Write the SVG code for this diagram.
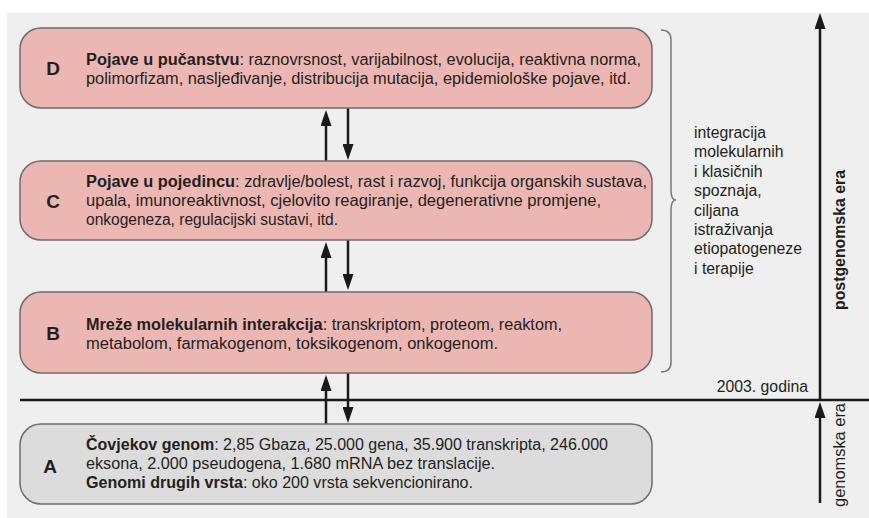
<svg xmlns="http://www.w3.org/2000/svg" width="869" height="518" viewBox="0 0 869 518">
<defs>
<style>
text{font-family:"Liberation Sans",Arial,sans-serif;fill:#231f20}
.box{fill:#ecb6b3;stroke:#6e6e6e;stroke-width:1.5}
.boxa{fill:#dcdcdc;stroke:#6e6e6e;stroke-width:1.5}
.t{font-size:16px}
.r{font-size:15.8px}
.b{font-weight:bold}
.lt{font-size:19px;font-weight:bold;text-anchor:middle}
.ar{stroke:#1a1a1a;stroke-width:2.5;fill:none;marker-end:url(#ah)}
</style>
<marker id="ah" viewBox="0 0 16 11" refX="10" refY="5.5" markerWidth="16" markerHeight="11" markerUnits="userSpaceOnUse" orient="auto">
<path d="M0,0 L16,5.5 L0,11 z" fill="#1a1a1a"/>
</marker>
</defs>
<rect x="7" y="13" width="862" height="505" fill="#efefef"/>

<g id="connectors">
<path class="ar" d="M326,161 V116"/>
<path class="ar" d="M348,108 V154"/>
<path class="ar" d="M326,292 V248"/>
<path class="ar" d="M348,240 V284"/>
<path class="ar" d="M326,424 V381"/>
<path class="ar" d="M348,373 V417"/>
</g>

<g id="era-axis">
<line x1="20" y1="400" x2="869" y2="400" stroke="#1a1a1a" stroke-width="2.5"/>
<path class="ar" d="M820,400 V19"/>
<path class="ar" d="M820,503 V408"/>
<text class="r" x="808" y="392" text-anchor="end">2003. godina</text>
<text class="r b" transform="translate(845,240) rotate(-90)" text-anchor="middle" textLength="140" lengthAdjust="spacingAndGlyphs">postgenomska era</text>
<text class="r" transform="translate(845,455) rotate(-90)" text-anchor="middle" textLength="104" lengthAdjust="spacingAndGlyphs">genomska era</text>
</g>

<g id="node-D">
<rect class="box" x="20" y="28" width="632" height="80" rx="21"/>
<text class="lt" x="53" y="75">D</text>
<text class="t" x="86" y="65" textLength="555" lengthAdjust="spacingAndGlyphs"><tspan class="b">Pojave u pučanstvu</tspan>: raznovrsnost, varijabilnost, evolucija, reaktivna norma,</text>
<text class="t" x="86" y="84" textLength="545" lengthAdjust="spacingAndGlyphs">polimorfizam, nasljeđivanje, distribucija mutacija, epidemiološke pojave, itd.</text>
</g>

<g id="node-C">
<rect class="box" x="20" y="161" width="632" height="79" rx="21"/>
<text class="lt" x="53" y="208">C</text>
<text class="t" x="86" y="187" textLength="561" lengthAdjust="spacingAndGlyphs"><tspan class="b">Pojave u pojedincu</tspan>: zdravlje/bolest, rast i razvoj, funkcija organskih sustava,</text>
<text class="t" x="86" y="206" textLength="515" lengthAdjust="spacingAndGlyphs">upala, imunoreaktivnost, cjelovito reagiranje, degenerativne promjene,</text>
<text class="t" x="86" y="225" textLength="252" lengthAdjust="spacingAndGlyphs">onkogeneza, regulacijski sustavi, itd.</text>
</g>

<g id="node-B">
<rect class="box" x="20" y="292" width="632" height="81" rx="21"/>
<text class="lt" x="53" y="340">B</text>
<text class="t" x="86" y="330" textLength="476" lengthAdjust="spacingAndGlyphs"><tspan class="b">Mreže molekularnih interakcija</tspan>: transkriptom, proteom, reaktom,</text>
<text class="t" x="86" y="349" textLength="412" lengthAdjust="spacingAndGlyphs">metabolom, farmakogenom, toksikogenom, onkogenom.</text>
</g>

<g id="node-A">
<rect class="boxa" x="20" y="424" width="632" height="80" rx="21"/>
<text class="lt" x="50" y="473">A</text>
<text class="t" x="86" y="450" textLength="522" lengthAdjust="spacingAndGlyphs"><tspan class="b">Čovjekov genom</tspan>: 2,85 Gbaza, 25.000 gena, 35.900 transkripta, 246.000</text>
<text class="t" x="86" y="469" textLength="409" lengthAdjust="spacingAndGlyphs">eksona, 2.000 pseudogena, 1.680 mRNA bez translacije.</text>
<text class="t" x="86" y="488" textLength="387" lengthAdjust="spacingAndGlyphs"><tspan class="b">Genomi drugih vrsta</tspan>: oko 200 vrsta sekvencionirano.</text>
</g>

<g id="integration-note">
<path d="M661,30 Q671,30 671,40 V190 Q671,200 676,200 Q671,200 671,210 V362 Q671,372 661,372" fill="none" stroke="#7a7a7a" stroke-width="1.5"/>
<text class="r">
<tspan x="694" y="138">integracija</tspan>
<tspan x="694" y="157.4">molekularnih</tspan>
<tspan x="694" y="176.8">i klasičnih</tspan>
<tspan x="694" y="196.2">spoznaja,</tspan>
<tspan x="694" y="215.6">ciljana</tspan>
<tspan x="694" y="235">istraživanja</tspan>
<tspan x="694" y="254.4">etiopatogeneze</tspan>
<tspan x="694" y="273.8">i terapije</tspan>
</text>
</g>
</svg>
